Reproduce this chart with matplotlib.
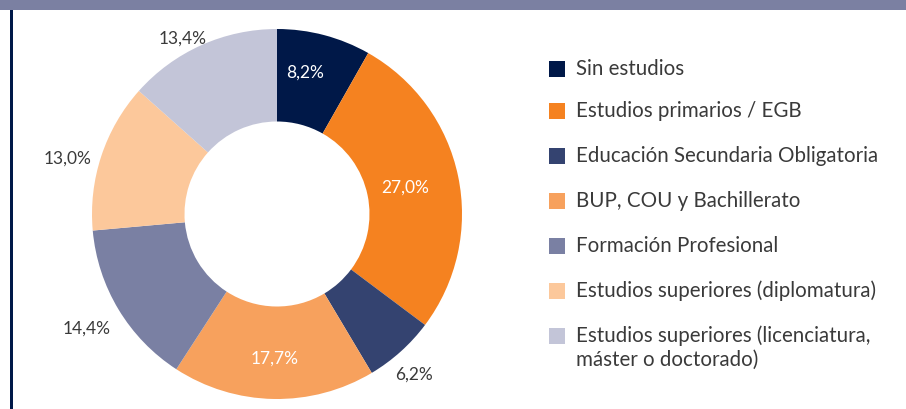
import numpy as np
import matplotlib
matplotlib.use("Agg")
import matplotlib.pyplot as plt
from matplotlib.patches import Rectangle

# data
categories = [
    "Sin estudios",
    "Estudios primarios / EGB",
    "Educación Secundaria Obligatoria",
    "BUP, COU y Bachillerato",
    "Formación Profesional",
    "Estudios superiores (diplomatura)",
    "Estudios superiores (licenciatura,\nmáster o doctorado)",
]
values = [8.2, 27.0, 6.2, 17.7, 14.4, 13.0, 13.4]
labels = ["8,2%", "27,0%", "6,2%", "17,7%", "14,4%", "13,0%", "13,4%"]
inside = [True, True, False, True, False, False, False]
colors = ["#001848", "#f58220", "#344370", "#f7a15d", "#7a80a3", "#fcc89b", "#c3c5d8"]

plt.rcParams["font.family"] = ["Lato", "DejaVu Sans"]
text_color = "#3a3a3a"

W, H = 906, 409
fig = plt.figure(figsize=(W / 100, H / 100), dpi=100)

# header band and left border
fig.patches.append(Rectangle((0, 1 - 10 / H), 1, 10 / H, transform=fig.transFigure,
                             facecolor="#7b80a2", edgecolor="none"))
fig.patches.append(Rectangle((10 / W, 0), 2.5 / W, 1 - 10 / H, transform=fig.transFigure,
                             facecolor="#001848", edgecolor="none"))

# donut
cx, cy, r = 277, 409 - 214, 185
lim = 1.3
side = 2 * lim * r
ax = fig.add_axes([(cx - side / 2) / W, (cy - side / 2) / H, side / W, side / H])
wedges, _ = ax.pie(values, colors=colors, startangle=90, counterclock=False,
                   wedgeprops=dict(width=0.5, edgecolor="none"))
ax.set_xlim(-lim, lim)
ax.set_ylim(-lim, lim)
ax.set_aspect("equal")
ax.axis("off")

# label placement: radial distance and small angular nudge per wedge
label_dist = [0.78, 0.71, 1.14, 0.78, 1.2, 1.17, 1.08]
label_nudge = [3.5, 0, -1.5, 0, 0, 3.5, 4.2]
for w, lab, ins, d, nd in zip(wedges, labels, inside, label_dist, label_nudge):
    ang = np.deg2rad((w.theta1 + w.theta2) / 2 + nd)
    ax.text(d * np.cos(ang), d * np.sin(ang), lab, ha="center", va="center",
            fontsize=12.5, color="white" if ins else text_color)

# legend
row_y = [69, 111, 156, 201, 246, 291, 336]
for y, c, name in zip(row_y, colors, categories):
    fig.patches.append(Rectangle((549 / W, (H - y - 8) / H), 16 / W, 16 / H,
                                 transform=fig.transFigure, facecolor=c, edgecolor="none"))
    for k, line in enumerate(name.split("\n")):
        fig.text(576 / W, (H - y - 24 * k) / H, line, ha="left", va="center",
                 fontsize=14.8, color=text_color)

fig.savefig("out.png", dpi=100)
